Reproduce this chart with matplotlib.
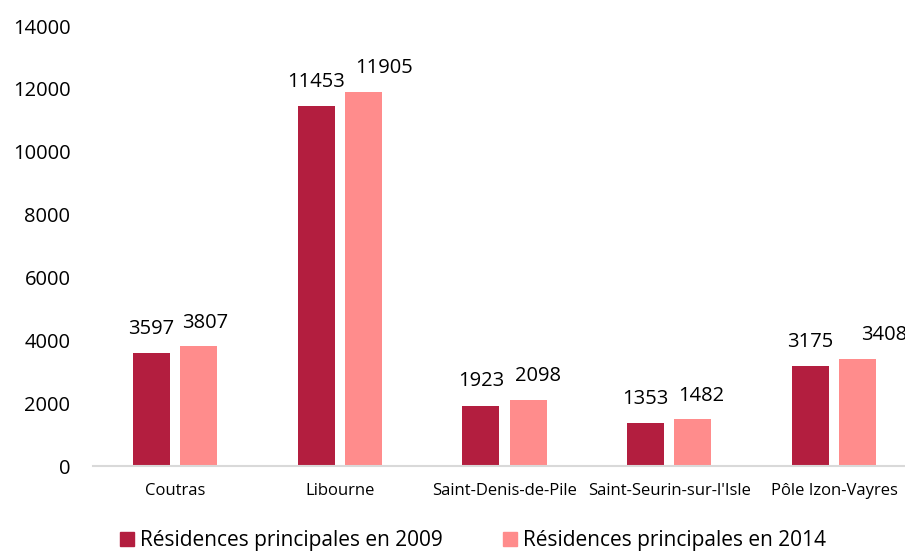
import matplotlib
matplotlib.use("Agg")
import matplotlib.pyplot as plt
from matplotlib.patches import Patch
import numpy as np

# data
communes = ["Coutras", "Libourne", "Saint-Denis-de-Pile", "Saint-Seurin-sur-l'Isle", "Pôle Izon-Vayres"]
rp_2009 = [3597, 11453, 1923, 1353, 3175]
rp_2014 = [3807, 11905, 2098, 1482, 3408]
series_names = ["Résidences principales en 2009", "Résidences principales en 2014"]
yticks = [0, 2000, 4000, 6000, 8000, 10000, 12000, 14000]

# the 2014 labels were nudged right by hand in the original (points)
nudge_2014 = [5, 15, 7, 6, 19]

clr_2009 = "#B31E3F"
clr_2014 = "#FF8C8C"

plt.rcParams['font.family'] = ['Open Sans', 'DejaVu Sans']

fig = plt.figure(figsize=(9.05, 5.52), dpi=100)
# axes runs a bit past the right edge, like the original (3408 gets clipped there too)
ax = fig.add_axes([92.6/905, 86/552, 823.8/905, 440/552])

x = np.arange(len(communes))
w = 0.225
off = 0.143
b1 = ax.bar(x - off, rp_2009, w, color=clr_2009)
b2 = ax.bar(x + off, rp_2014, w, color=clr_2014)

for r, v in zip(b1, rp_2009):
    ax.annotate(str(v), (r.get_x() + r.get_width()/2, v), xytext=(0, 14),
                textcoords="offset points", ha="center", va="baseline",
                fontsize=14.5, color="black", annotation_clip=False)
for r, v, dx in zip(b2, rp_2014, nudge_2014):
    ax.annotate(str(v), (r.get_x() + r.get_width()/2, v), xytext=(dx, 13.5),
                textcoords="offset points", ha="center", va="baseline",
                fontsize=14.5, color="black", annotation_clip=False)

ax.set_xlim(-0.5, len(communes) - 0.5)
ax.set_ylim(0, 14000)
ax.set_yticks(yticks)
ax.set_yticklabels([str(t) for t in yticks], fontsize=14.5)
ax.set_xticks(x)
ax.set_xticklabels(communes, fontsize=12)
ax.tick_params(axis="y", length=0, pad=16)
ax.tick_params(axis="x", length=0, pad=12)
for s in ["top", "right", "left"]:
    ax.spines[s].set_visible(False)
ax.spines["bottom"].set_color("#D9D9D9")
ax.spines["bottom"].set_linewidth(1.5)

handles = [Patch(color=clr_2009, label=series_names[0]),
           Patch(color=clr_2014, label=series_names[1])]
fig.legend(handles=handles, loc="center", bbox_to_anchor=(0.523, 0.021), ncol=2,
           frameon=False, fontsize=15, handlelength=0.65, handleheight=0.65,
           handletextpad=0.3, columnspacing=2.9, borderaxespad=0)

plt.savefig("out.png", dpi=100)
